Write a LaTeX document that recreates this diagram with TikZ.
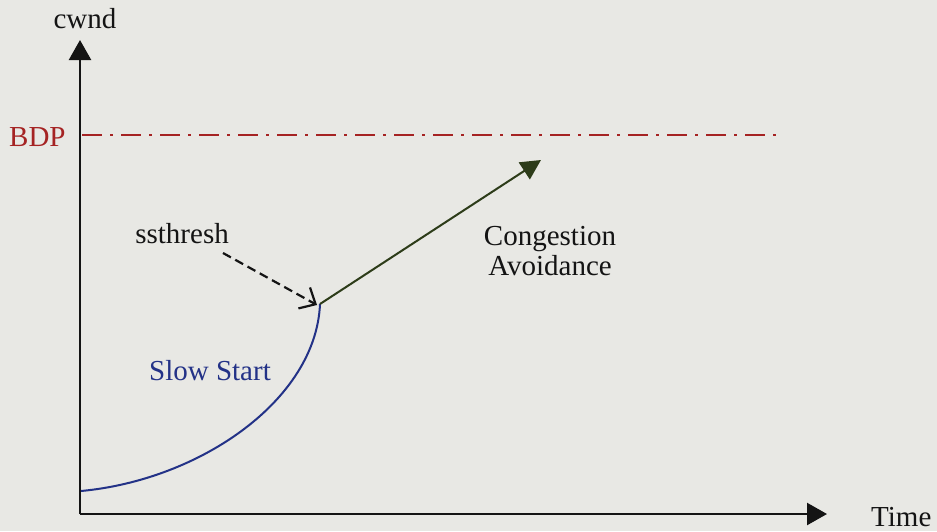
\documentclass[tikz,border=0pt]{standalone}
\usepackage{fontspec}
\setmainfont{Liberation Serif}
\usetikzlibrary{arrows.meta}
\definecolor{paper}{RGB}{232,232,228}
\definecolor{bdpred}{RGB}{165,35,35}
\definecolor{ssblue}{RGB}{35,50,135}
\definecolor{caolive}{RGB}{45,60,25}
\definecolor{ink}{RGB}{20,20,20}
\tikzset{
  lbl/.style={font=\fontsize{29}{32}\selectfont, text=ink, inner sep=0pt},
  axisline/.style={draw=ink, line width=2.4pt, -{Triangle[length=20pt,width=22pt]}},
  bdpline/.style={draw=bdpred, line width=2.6pt, dash pattern=on 20pt off 8pt on 3pt off 8pt},
}
\begin{document}
\begin{tikzpicture}[x=1pt,y=-1pt]
  \fill[paper] (0,0) rectangle (937,531);
  \useasboundingbox (0,0) rectangle (937,531);

  % axes
  \coordinate (origin) at (80,514);
  \coordinate (ytop) at (80,40);
  \coordinate (xend) at (827,514);
  \draw[axisline] (origin) -- (ytop);
  \draw[axisline] (origin) -- (xend);
  \node[lbl, anchor=base] (cwnd) at (85,28) {cwnd};
  \node[lbl, anchor=base west] (time) at (871,526) {Time};

  % bandwidth-delay product
  \node[lbl, text=bdpred, anchor=base west] (bdp) at (9,146) {BDP};
  \coordinate (bdpA) at (82,135);
  \coordinate (bdpB) at (780,135);
  \draw[bdpline] (bdpA) -- (bdpB);

  % slow start curve
  \coordinate (s0) at (81,491);
  \coordinate (ss) at (320,304);
  \draw[ssblue, line width=2pt] (s0) .. controls (200,480) and (316,400) .. (ss);
  \node[lbl, text=ssblue, anchor=base] (slow) at (210,380) {Slow Start};

  % congestion avoidance
  \coordinate (caend) at (541,160);
  \draw[caolive, line width=2pt, -{Triangle[length=20pt,width=20pt]}] (ss) -- (caend);
  \node[lbl, anchor=base] (cong) at (550,245) {Congestion};
  \node[lbl, anchor=base] (avoid) at (550,275) {Avoidance};

  % threshold marker
  \node[lbl, anchor=base east] (sst) at (229,243) {ssthresh};
  \coordinate (dstart) at (223,253);
  \draw[ink, line width=2.2pt, dash pattern=on 9pt off 5pt, -{Straight Barb[length=13pt,width=24pt,line width=2.2pt]}] (dstart) -- (317,305);
\end{tikzpicture}
\end{document}
